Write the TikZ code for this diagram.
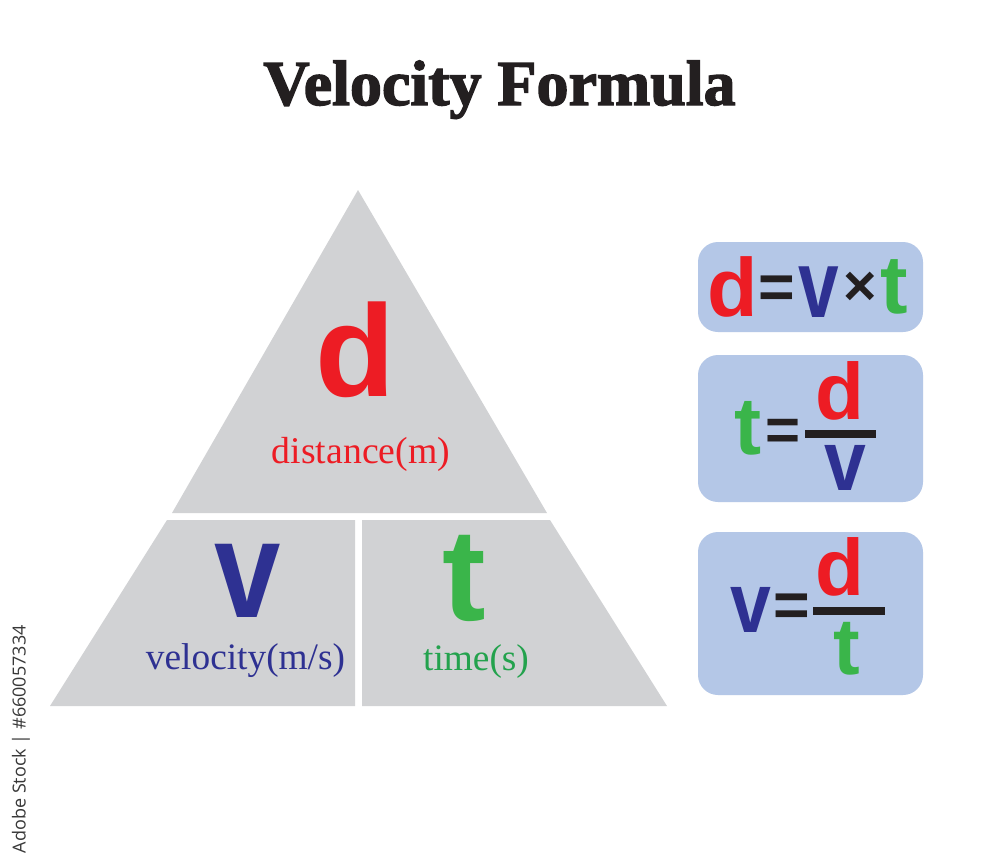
\documentclass[tikz,border=0pt]{standalone}
\usepackage{fontspec}
\setmainfont{Liberation Serif}
\newfontfamily\glyphfont{Liberation Sans}
\newfontfamily\wmfont{Open Sans}
\newfontfamily\titlefont{Liberation Serif Bold}[FakeBold=2.2]
\newcommand\Lf[1]{\glyphfont\bfseries\fontsize{#1}{#1}\selectfont}
\newcommand\Sf[1]{\rmfamily\fontsize{#1}{#1}\selectfont}
\definecolor{trigray}{HTML}{D1D2D4}
\definecolor{boxblue}{HTML}{B4C7E7}
\definecolor{myred}{HTML}{ED1C24}
\definecolor{myblue}{HTML}{2E3192}
\definecolor{mygreen}{HTML}{3AB54A}
\definecolor{labgreen}{HTML}{23A24D}
\definecolor{inkblack}{HTML}{231F20}
\tikzset{
  piece/.style={fill=trigray},
  fbox/.style={fill=boxblue, rounded corners=15pt},
  letter/.style={inner sep=0pt, anchor=center},
  label/.style={inner sep=0pt, anchor=base},
  fracbar/.style={draw=inkblack, line width=6pt},
}
\begin{document}
\begin{tikzpicture}[x=0.75pt,y=-0.75pt]
\useasboundingbox (0,0) rectangle (1000,865);
\fill[white] (0,0) rectangle (1000,865);

% title
\node[label, text=inkblack, font={\titlefont\fontsize{48pt}{48pt}\selectfont}] (title) at (499.5,105) {Velocity Formula};

% triangle pieces
\fill[piece] (358,190) -- (547,513) -- (172,513) -- cycle;
\fill[piece] (167,520) -- (355,520) -- (355,706) -- (50,706) -- cycle;
\fill[piece] (362,520) -- (550,520) -- (667,706) -- (362,706) -- cycle;

% triangle letters
\node[letter, text=myred, font=\Lf{98pt}] (dd) at (355.5,350) {d};
\node[label, text=myred, font=\Sf{28.3pt}] (dlab) at (361,463) {distance(m)};
\node[letter, text=myblue, font=\Lf{104pt}] (vv) at (248,581) {\scalebox{0.86}[1]{v}};
\node[label, text=myblue, font=\Sf{28pt}] (vlab) at (245.5,669) {velocity(m/s)};
\node[letter, text=mygreen, font=\Lf{98pt}] (tt) at (464,578.5) {t};
\node[label, text=labgreen, font=\Sf{28pt}] (tlab) at (476,670) {time(s)};

% formula boxes
\fill[fbox] (698,242) rectangle (923,332);
\fill[fbox] (698,355) rectangle (923,502);
\fill[fbox] (698,532) rectangle (923,695);

% box 1: d = v x t
\node[letter, text=myred, font=\Lf{62pt}] (a1) at (733,287) {d};
\node[letter, text=inkblack, font=\Lf{47pt}] (a2) at (777,292.5) {=};
\node[letter, text=myblue, font=\Lf{72pt}] (a3) at (819,292) {\scalebox{0.76}[1]{v}};
\node[letter, text=inkblack, font=\Lf{43pt}] (a4) at (860,288.5) {×};
\node[letter, text=mygreen, font=\Lf{62pt}] (a5) at (894.5,287) {t};

% box 2: t = d / v
\node[letter, text=mygreen, font=\Lf{61pt}] (b1) at (748,428) {t};
\node[letter, text=inkblack, font=\Lf{45pt}] (b2) at (783.5,434.5) {=};
\coordinate (b3l) at (805,434);
\coordinate (b3r) at (876,434);
\draw[fracbar] (b3l) -- (b3r);
\node[letter, text=myred, font=\Lf{60pt}] (b4) at (840,391) {d};
\node[letter, text=myblue, font=\Lf{64pt}] (b5) at (845.5,468) {\scalebox{0.88}[1]{v}};

% box 3: v = d / t
\node[letter, text=myblue, font=\Lf{64pt}] (c1) at (750.5,610) {\scalebox{0.86}[1]{v}};
\node[letter, text=inkblack, font=\Lf{47pt}] (c2) at (792,610.5) {=};
\coordinate (c3l) at (813,611);
\coordinate (c3r) at (885,611);
\draw[fracbar] (c3l) -- (c3r);
\node[letter, text=myred, font=\Lf{60pt}] (c4) at (840,567) {d};
\node[letter, text=mygreen, font=\Lf{60pt}] (c5) at (847,649) {t};

% side text
\node[inner sep=0pt, rotate=90, anchor=east, text=black!78, font={\wmfont\fontsize{13.5pt}{13.5pt}\selectfont}] (wm) at (21,625) {Adobe Stock | \#660057334};
\end{tikzpicture}
\end{document}
